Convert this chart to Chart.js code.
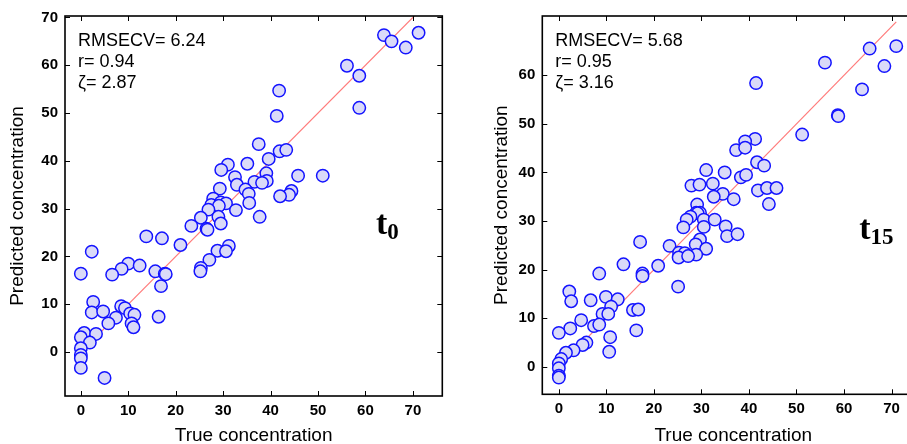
<!DOCTYPE html>
<html>
<head>
<meta charset="utf-8">
<script src="https://cdn.jsdelivr.net/npm/chart.js@4.4.0/dist/chart.umd.min.js"></script>
<style>
  body { margin: 0; background: #fff; width: 907px; height: 444px; overflow: hidden; position: relative; }
  canvas { position: absolute; top: 0; }
  #c0 { left: 0; }
  #c15 { left: 450px; }
</style>
</head>
<body>
<canvas id="c0" width="450" height="444"></canvas>
<canvas id="c15" width="482" height="444"></canvas>
<script>
// t0 panel: true vs predicted
const t0True = [63.9, 65.5, 71.2, 68.5, 56.1, 58.7, 58.7, 41.8, 41.3, 37.5, 41.9, 43.3, 39.6, 31.0, 35.1,
  29.6, 39.1, 45.8, 51.0, 32.5, 36.6, 39.2, 38.2, 32.9, 29.3, 34.7, 35.4, 44.4, 43.9, 42.0,
  27.9, 27.5, 29.5, 30.6, 29.1, 35.5, 26.9, 32.7, 25.3, 29.0, 37.7, 29.5, 23.3, 26.5, 26.7,
  13.8, 17.1, 21.0, 31.2, 28.8, 30.6, 27.1, 2.3, 10.0, 12.4, 8.6, 25.3, 25.2, 15.7, 17.7,
  17.9, 0.0, 6.6, 16.9, 2.6, 8.5, 9.3, 2.3, 4.7, 10.4, 11.3, 16.4, 7.4, 5.8, 10.7,
  11.1, 0.7, 3.2, 0.0, 1.9, 0.0, 0.0, 0.0, 0.0, 5.0];
const t0Pred = [66.3, 65.0, 66.8, 63.7, 59.9, 57.8, 51.1, 54.7, 49.4, 43.5, 42.0, 42.3, 40.4, 39.2, 39.4,
  38.1, 37.4, 36.9, 36.9, 36.6, 35.6, 35.8, 35.4, 35.0, 34.2, 34.0, 33.1, 33.7, 32.9, 32.6,
  32.1, 30.8, 31.3, 31.1, 30.6, 31.2, 29.8, 29.7, 28.1, 28.3, 28.3, 26.9, 26.4, 25.8, 25.6,
  24.2, 23.8, 22.4, 22.2, 21.2, 21.1, 19.3, 21.0, 18.5, 18.1, 17.4, 17.6, 16.9, 16.9, 16.4,
  16.3, 16.4, 16.2, 13.8, 10.5, 9.6, 9.2, 8.3, 8.5, 8.1, 7.8, 7.4, 7.2, 6.0, 6.0,
  5.2, 4.0, 3.8, 3.1, 2.0, 0.8, -0.6, -1.3, -3.3, -5.4];

// t15 panel: true vs predicted
const t15True = [71.0, 65.4, 68.5, 56.0, 63.8, 41.5, 58.7, 58.8, 51.2, 41.3, 39.2, 37.3, 39.2, 41.7, 43.2,
  31.0, 34.9, 38.3, 39.4, 27.9, 29.6, 32.4, 41.9, 43.8, 45.8, 34.5, 32.6, 36.8, 44.2, 29.1,
  28.9, 29.7, 29.2, 27.7, 26.9, 30.5, 32.8, 30.5, 26.2, 35.1, 35.4, 37.6, 29.7, 28.8, 17.1,
  23.3, 31.0, 28.9, 25.3, 26.5, 25.2, 27.2, 13.6, 20.9, 17.6, 17.6, 8.5, 25.1, 2.2, 9.9,
  12.4, 2.6, 6.7, 11.0, 15.6, 16.7, 9.2, 10.4, 4.7, 7.4, 8.5, 2.4, 16.3, 0.0, 10.8,
  5.8, 5.0, 10.6, 3.1, 1.5, 0.5, 0.0, 0.0, 0.0, 0.0];
const t15Pred = [66.0, 65.5, 61.9, 62.6, 57.1, 58.4, 51.8, 51.6, 47.8, 46.9, 46.4, 44.6, 45.1, 42.1, 41.4,
  40.5, 40.0, 39.0, 39.5, 37.3, 37.5, 37.7, 36.3, 36.8, 36.8, 35.6, 35.0, 34.5, 33.5, 33.4,
  31.7, 31.7, 31.6, 30.9, 30.3, 30.3, 30.3, 28.8, 28.7, 28.9, 26.9, 27.3, 26.2, 25.2, 25.7,
  24.9, 24.3, 23.1, 23.5, 23.4, 22.5, 22.8, 21.1, 20.8, 19.2, 18.7, 19.2, 16.5, 15.5, 14.4,
  13.9, 13.5, 13.7, 12.4, 11.7, 11.8, 10.9, 10.9, 9.6, 8.4, 8.7, 7.9, 7.5, 7.0, 6.1,
  5.0, 4.5, 3.1, 3.4, 2.9, 1.6, 0.7, -0.3, -1.8, -2.2];

const xTicks = [0, 10, 20, 30, 40, 50, 60, 70];
const yTicksT0 = [0, 10, 20, 30, 40, 50, 60, 70];
const yTicksT15 = [0, 10, 20, 30, 40, 50, 60];
const identityLine = [0, 71];

const statsT0 = ['RMSECV= 6.24', 'r= 0.94', '\u03B6= 2.87'];
const statsT15 = ['RMSECV= 5.68', 'r= 0.95', '\u03B6= 3.16'];

// box round the plot, inward ticks on every side, stats text and the t label
const boxPlugin = {
  id: 'box',
  afterDraw(chart, args, opts) {
    const { ctx, chartArea: a, scales: { x, y } } = chart;
    ctx.save();
    ctx.strokeStyle = '#000';
    ctx.lineWidth = 1.6;
    ctx.strokeRect(a.left, a.top, a.right - a.left, a.bottom - a.top);
    ctx.lineWidth = 1;
    ctx.beginPath();
    x.ticks.forEach(t => {
      const px = Math.round(x.getPixelForValue(t.value)) + 0.5;
      ctx.moveTo(px, a.bottom); ctx.lineTo(px, a.bottom - 5);
      ctx.moveTo(px, a.top); ctx.lineTo(px, a.top + 5);
    });
    y.ticks.forEach(t => {
      const py = Math.round(y.getPixelForValue(t.value)) + 0.5;
      ctx.moveTo(a.left, py); ctx.lineTo(a.left + 5, py);
      ctx.moveTo(a.right, py); ctx.lineTo(a.right - 5, py);
    });
    ctx.stroke();

    ctx.fillStyle = '#000';
    ctx.textBaseline = 'middle';
    ctx.textAlign = 'left';
    ctx.font = '18px "Liberation Sans", Arial, sans-serif';
    opts.stats.forEach((s, i) => ctx.fillText(s, a.left + 13, a.top + 25.5 + i * 21));

    ctx.textBaseline = 'alphabetic';
    ctx.font = 'bold 34px "Liberation Serif", "Times New Roman", serif';
    const tx = a.left + opts.tagX, ty = a.top + opts.tagY;
    ctx.fillText('t', tx, ty);
    const tw = ctx.measureText('t').width;
    ctx.font = 'bold 23px "Liberation Serif", "Times New Roman", serif';
    ctx.fillText(opts.sub, tx + tw, ty + 5);
    ctx.restore();
  }
};

function makeChart(id, trueVals, predVals, yTicks, cfg) {
  const tickFont = { family: '"Liberation Sans", Arial, sans-serif', size: 15, weight: 'bold' };
  const titleFont = { family: '"Liberation Sans", Arial, sans-serif', size: 19 };
  return new Chart(document.getElementById(id), {
    data: {
      datasets: [
        {
          type: 'scatter',
          data: trueVals.map((v, i) => ({ x: v, y: predVals[i] })),
          pointRadius: 6.2,
          pointHoverRadius: 6.2,
          borderWidth: 1.5,
          borderColor: '#1414ff',
          backgroundColor: '#dadaf8',
          order: 0
        },
        {
          type: 'line',
          data: identityLine.map(v => ({ x: v, y: v })),
          borderColor: '#ff7a7a',
          borderWidth: 1.2,
          pointRadius: 0,
          fill: false,
          order: 1
        }
      ]
    },
    options: {
      responsive: false,
      animation: false,
      events: [],
      layout: { padding: { top: cfg.top, right: cfg.right, left: 0, bottom: 0 } },
      plugins: {
        legend: { display: false },
        tooltip: { enabled: false },
        box: { stats: cfg.stats, sub: cfg.sub, tagX: cfg.tagX, tagY: cfg.tagY }
      },
      scales: {
        x: {
          type: 'linear',
          min: cfg.xMin, max: cfg.xMax,
          afterBuildTicks: s => { s.ticks = xTicks.map(v => ({ value: v })); },
          afterFit: s => { s.height = cfg.xh; },
          grid: { display: false, drawTicks: false },
          border: { display: false },
          ticks: { font: tickFont, color: '#000', padding: 6, maxRotation: 0 },
          title: { display: true, text: 'True concentration', font: { ...titleFont, lineHeight: 0.84 }, color: '#000', padding: 0 }
        },
        y: {
          type: 'linear',
          min: cfg.yMin, max: cfg.yMax,
          afterBuildTicks: s => { s.ticks = yTicks.map(v => ({ value: v })); },
          afterFit: s => { s.width = cfg.yw; },
          grid: { display: false, drawTicks: false },
          border: { display: false },
          ticks: { font: tickFont, color: '#000', padding: 7 },
          title: { display: true, text: 'Predicted concentration', font: { ...titleFont, lineHeight: 1.2 }, color: '#000', padding: { top: cfg.yTitlePad, bottom: 0 } }
        }
      }
    },
    plugins: [boxPlugin]
  });
}

makeChart('c0', t0True, t0Pred, yTicksT0, {
  top: 15, right: 4, xh: 48, yw: 65,
  xMin: -3.34, xMax: 76.2, yMin: -9.18, yMax: 70.3,
  yTitlePad: 6.6, stats: statsT0, sub: '0', tagX: 311, tagY: 218
});

makeChart('c15', t15True, t15Pred, yTicksT15, {
  top: 14, right: 4, xh: 49.7, yw: 92.3,
  xMin: -3.48, xMax: 76.9, yMin: -5.65, yMax: 72.2,
  yTitlePad: 40.3, stats: statsT15, sub: '15', tagX: 317, tagY: 223
});
</script>
</body>
</html>
